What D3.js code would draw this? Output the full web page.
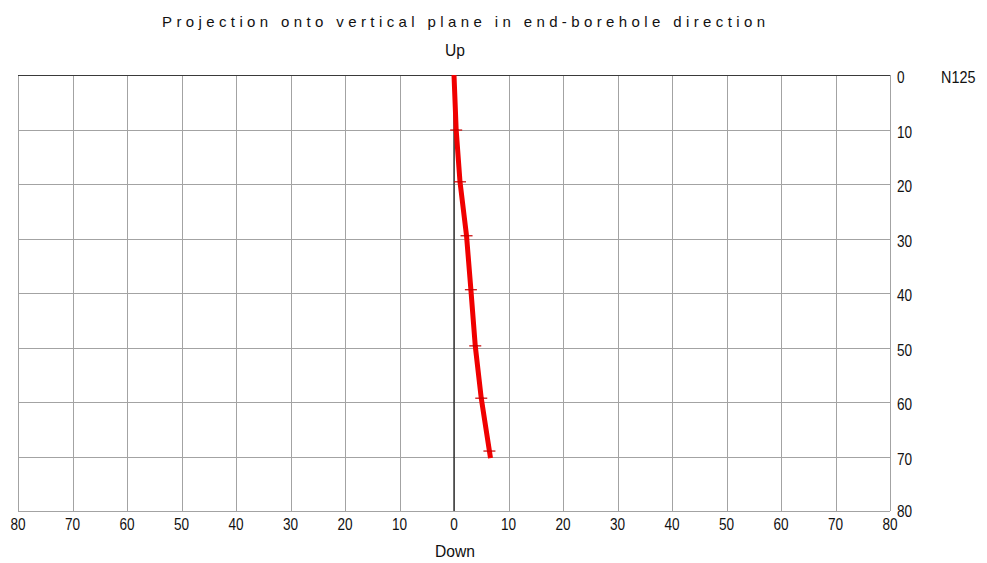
<!DOCTYPE html>
<html>
<head>
<meta charset="utf-8">
<script src="https://cdn.jsdelivr.net/npm/d3@7"></script>
<style>
  html, body { margin: 0; padding: 0; background: #fff; }
  svg { display: block; }
  .lbl { font-family: "Liberation Sans", Arial, sans-serif; font-size: 16px; fill: #111; }
  .dir { font-family: "Liberation Sans", Arial, sans-serif; font-size: 17px; fill: #111; }
  .ttl { font-family: "Liberation Sans", Arial, sans-serif; font-size: 15px; fill: #111; }
</style>
</head>
<body>
<svg id="chart" width="987" height="563"></svg>
<script>
// Horizontal axis: offset (m) in the projection plane, labelled by magnitude
const xTicks = [-80, -70, -60, -50, -40, -30, -20, -10, 0, 10, 20, 30, 40, 50, 60, 70, 80];
// Vertical axis: depth (m)
const depthTicks = [0, 10, 20, 30, 40, 50, 60, 70, 80];

// Borehole survey stations: along-hole length, horizontal offset, vertical depth
const stationLength = [0, 10, 20, 30, 40, 50, 60, 70, 70.3];
const stationOffset = [0, 0.4, 1.1, 2.3, 3.1, 3.9, 5.0, 6.5, 6.7];
const stationDepth  = [0, 10.1, 19.6, 29.5, 39.4, 49.7, 59.3, 69.0, 70.3];
// Stations that carry a cross mark
const markedLengths = [10, 20, 30, 40, 50, 60, 70];

const title = "Projection onto vertical plane in end-borehole direction";
const azimuthLabel = "N125";

const svg = d3.select("#chart");
const x = d3.scaleLinear().domain([-80, 80]).range([18, 890]);
const y = d3.scaleLinear().domain([0, 80]).range([75, 511]);

const gridColor = "#a3a3a3";
const narrow = 0.85;

// Vertical grid lines
const gx = svg.append("g")
  .attr("transform", `translate(0,${y(80)})`)
  .call(d3.axisBottom(x).tickValues(xTicks).tickSize(-(y(80) - y(0))).tickFormat(""));
gx.select(".domain").remove();
gx.selectAll("line").attr("stroke", gridColor).attr("stroke-width", 1).attr("shape-rendering", "crispEdges");

// Horizontal grid lines
const gy = svg.append("g")
  .attr("transform", `translate(${x(80)},0)`)
  .call(d3.axisRight(y).tickValues(depthTicks).tickSize(-(x(80) - x(-80))).tickFormat(""));
gy.select(".domain").remove();
gy.selectAll("line").attr("stroke", gridColor).attr("stroke-width", 1).attr("shape-rendering", "crispEdges");

// Top border (ground level)
svg.append("line")
  .attr("x1", x(-80)).attr("x2", x(80))
  .attr("y1", y(0)).attr("y2", y(0))
  .attr("stroke", "#3a3a3a").attr("stroke-width", 1).attr("shape-rendering", "crispEdges");

// Collar vertical reference
svg.append("line")
  .attr("x1", x(0)).attr("x2", x(0))
  .attr("y1", y(0)).attr("y2", y(80))
  .attr("stroke", "#111").attr("stroke-width", 1.2);

// Condensed text helper
function label(g, cls, px, py, txt, anchor, sx) {
  return g.append("text")
    .attr("class", cls)
    .attr("transform", `translate(${px},${py}) scale(${sx},1)`)
    .attr("text-anchor", anchor)
    .text(txt);
}

// Bottom labels
const gb = svg.append("g");
xTicks.forEach(d => label(gb, "lbl", x(d), y(80) + 19, Math.abs(d), "middle", narrow));

// Right-side depth labels
const gr = svg.append("g");
depthTicks.forEach(d => label(gr, "lbl", x(80) + 7, y(d) + (d === 80 ? 6 : 8), d, "start", narrow));

// Azimuth label
label(svg, "lbl", 941, y(0) + 8, azimuthLabel, "start", 0.9);

// Title and direction labels
svg.append("text")
  .attr("class", "ttl")
  .attr("x", 162).attr("y", 27)
  .attr("textLength", 603)
  .attr("lengthAdjust", "spacing")
  .text(title);
label(svg, "dir", x(0) + 1, 56, "Up", "middle", 0.92);
label(svg, "dir", x(0) + 1, 557, "Down", "middle", 0.92);

// Borehole trace
const pts = stationLength.map((l, i) => ({ l, off: stationOffset[i], dep: stationDepth[i] }));
svg.append("path")
  .datum(pts)
  .attr("fill", "none")
  .attr("stroke", "#f00000")
  .attr("stroke-width", 5)
  .attr("stroke-linejoin", "round")
  .attr("d", d3.line().x(d => x(d.off)).y(d => y(d.dep)));

// Station cross marks
const marked = pts.filter(p => markedLengths.includes(p.l));
svg.append("g").selectAll("line")
  .data(marked)
  .join("line")
  .attr("x1", d => x(d.off) - 6).attr("x2", d => x(d.off) + 6)
  .attr("y1", d => y(d.dep)).attr("y2", d => y(d.dep))
  .attr("stroke", "#c80000").attr("stroke-width", 1.2);
</script>
</body>
</html>
